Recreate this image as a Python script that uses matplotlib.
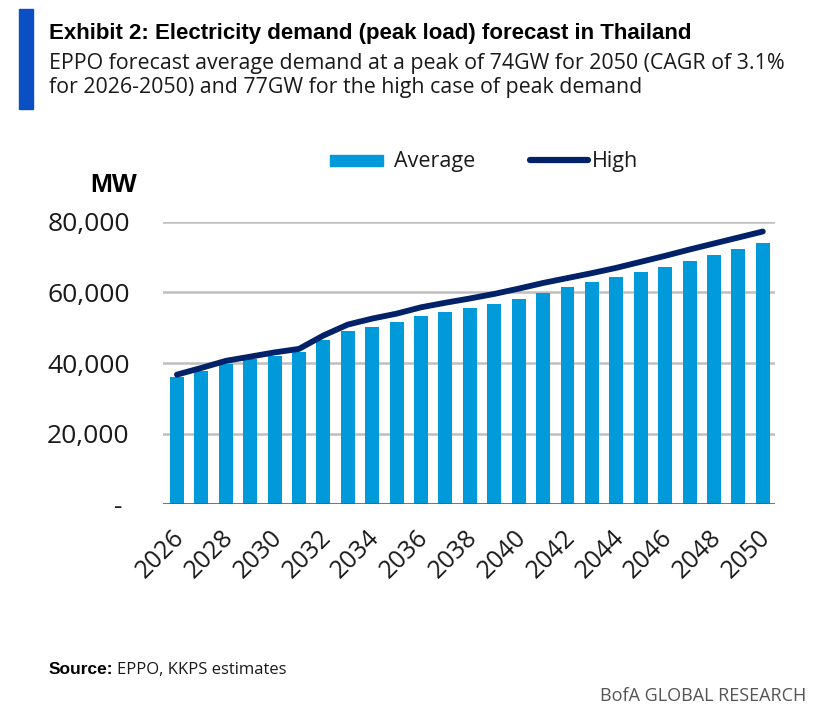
import matplotlib
matplotlib.use("Agg")
import matplotlib.pyplot as plt
import matplotlib.transforms as mtransforms
from matplotlib.patches import Rectangle
from matplotlib.lines import Line2D

years = list(range(2026, 2051))
average = [36100, 37800, 39800, 41000, 42100, 43200, 46600, 49100, 50300, 51600,
           53400, 54500, 55700, 56700, 58200, 59900, 61600, 63000, 64400, 65800,
           67200, 68900, 70600, 72300, 74000]
high = [36700, 38600, 40600, 41800, 43000, 44000, 47800, 50900, 52600, 54000,
        55800, 57100, 58300, 59600, 61100, 62700, 64100, 65500, 67000, 68700,
        70400, 72200, 73900, 75600, 77300]
yticks = [0, 20000, 40000, 60000, 80000]
ytick_labels = ["- ", "20,000", "40,000", "60,000", "80,000"]
title = "Exhibit 2: Electricity demand (peak load) forecast in Thailand"
sub1 = "EPPO forecast average demand at a peak of 74GW for 2050 (CAGR of 3.1%"
sub2 = "for 2026-2050) and 77GW for the high case of peak demand"

W, H = 816, 713
BAR_C = "#0099DA"
LINE_C = "#012169"
TXT = "#1a1a1a"

fig = plt.figure(figsize=(W / 100, H / 100), dpi=100)
fig.patch.set_facecolor("white")

def fx(x):
    return x / W

def fy(y):
    return 1 - y / H

ax = fig.add_axes([fx(163), fy(504), fx(775) - fx(163), fy(222) - fy(504)])
x = list(range(len(years)))
ax.bar(x, average, width=0.57, color=BAR_C, zorder=2)
ax.plot(x, high, color=LINE_C, lw=4.2, solid_capstyle="round",
        solid_joinstyle="round", zorder=4, clip_on=False)
ax.axhline(0, color="#595959", lw=1.8, zorder=3)
ax.set_ylim(0, 80000)
ax.set_xlim(-0.57, 24.5)
ax.set_yticks(yticks)
ax.set_yticklabels(ytick_labels, fontfamily="Open Sans", fontsize=19, color=TXT)
ax.set_xticks(x[::2])
ax.set_xticklabels([str(y) for y in years[::2]], rotation=45, ha="right",
                   rotation_mode="anchor", fontfamily="Open Sans", fontsize=18,
                   color=TXT)
ax.tick_params(axis="both", length=0)
ax.tick_params(axis="y", pad=24)
ax.tick_params(axis="x", pad=15)
shift = mtransforms.ScaledTranslation(-5 / 100, 0, fig.dpi_scale_trans)
for lab in ax.get_xticklabels():
    lab.set_transform(lab.get_transform() + shift)
ax.yaxis.grid(True, color="#BFBFBF", lw=1.8)
ax.set_axisbelow(True)
for s in ax.spines.values():
    s.set_visible(False)

renderer = fig.canvas.get_renderer()

def fit(t, target):
    w = t.get_window_extent(renderer).width
    t.set_fontsize(t.get_fontsize() * target / w)
    return t

# accent bar
fig.patches.append(Rectangle((fx(19), fy(109)), fx(33) - fx(19), fy(9) - fy(109),
                             transform=fig.transFigure, color="#0B4FC4"))

t = fig.text(fx(49), fy(39.5), title, fontfamily="Liberation Sans",
             fontweight="bold", fontsize=15, color="#000000", va="baseline")
fit(t, 647)
s1 = fig.text(fx(49), fy(69.5), sub1, fontfamily="Open Sans", fontsize=15,
              color=TXT, va="baseline")
fit(s1, 735)
fig.text(fx(49), fy(93.5), sub2, fontfamily="Open Sans", fontsize=s1.get_fontsize(),
         color=TXT, va="baseline")

# legend
fig.patches.append(Rectangle((fx(330), fy(165.5)), fx(383) - fx(330), fy(155) - fy(165.5),
                             transform=fig.transFigure, color=BAR_C))
fig.text(fx(394), fy(167), "Average", fontfamily="Open Sans", fontsize=15.5,
         color=TXT, va="baseline")
fig.lines.append(Line2D([fx(530), fx(588)], [fy(160), fy(160)], transform=fig.transFigure,
                        color=LINE_C, lw=4.5, solid_capstyle="round"))
fig.text(fx(592), fy(167), "High", fontfamily="Open Sans", fontsize=15.5,
         color=TXT, va="baseline")

# unit label
fig.text(fx(114), fy(191.5), "MW", fontfamily="Liberation Sans", fontweight="bold",
         fontsize=19, color="#000000", ha="center", va="baseline")

# source
src_b = fig.text(fx(49), fy(674), "Source:", fontfamily="Liberation Sans",
                 fontweight="bold", fontsize=12.5, color="#000000", va="baseline")
bw = src_b.get_window_extent(renderer).width
src_r = fig.text(fx(49 + bw + 4), fy(674), "EPPO, KKPS estimates", fontfamily="Open Sans",
                 fontsize=12, color=TXT, va="baseline")
fig.text(fx(806), fy(701), "BofA GLOBAL RESEARCH", fontfamily="Open Sans",
         fontsize=13, color="#555555", ha="right", va="baseline")

fig.savefig("out.png", dpi=100, facecolor="white")
